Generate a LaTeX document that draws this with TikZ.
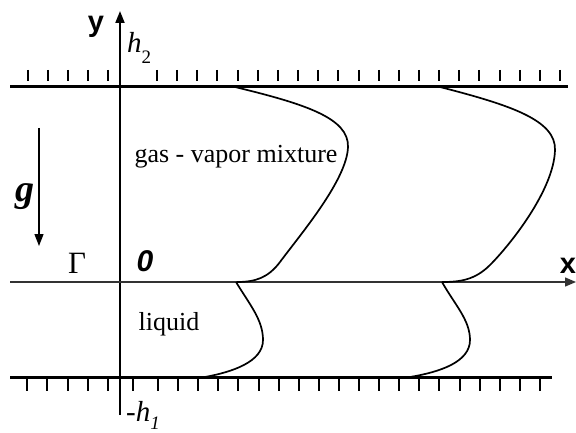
\documentclass[tikz,border=0pt]{standalone}
\usepackage{fontspec}
\setmainfont{Liberation Serif}
\setsansfont{Liberation Sans}
\usetikzlibrary{arrows.meta}
\begin{document}
\begin{tikzpicture}[x=1pt,y=-1pt,
  wall/.style={line width=3pt},
  tickmark/.style={line width=2pt},
  yaxis/.style={line width=1.9pt,-{Triangle[length=12pt,width=9pt]}},
  xaxis/.style={line width=1.4pt,black!80,-{Triangle[length=11pt,width=9pt]}},
  prof/.style={line width=1.7pt},
  lab/.style={inner sep=0pt,font=\fontsize{26}{30}\selectfont},
  axlab/.style={inner sep=0pt,font=\sffamily\bfseries\fontsize{29}{30}\selectfont}]
\useasboundingbox (0,0) rectangle (576,433);
% walls
\coordinate (tw1) at (10,87); \coordinate (tw2) at (568,87);
\coordinate (bw1) at (10,377); \coordinate (bw2) at (552,377);
\draw[wall] (tw1) -- (tw2);
\draw[wall] (bw1) -- (bw2);
% ticks top
\foreach \x in {28,48,68,88,108}{\draw[tickmark] (\x,70) -- (\x,81);}
\foreach \i in {0,...,20}{\draw[tickmark] ({157+20.15*\i},70) -- ({157+20.15*\i},81);}
% ticks bottom
\foreach \x in {27,47,68,88,108,133}{\draw[tickmark] (\x,378) -- (\x,391);}
\foreach \i in {0,...,19}{\draw[tickmark] ({158+20.1*\i},378) -- ({158+20.1*\i},391);}
% axes
\coordinate (yb) at (120,415); \coordinate (yt) at (120,11);
\coordinate (xl) at (10,282); \coordinate (xr) at (576,282);
\draw[yaxis] (yb) -- (yt);
\draw[xaxis] (xl) -- (xr);
% gravity arrow
\coordinate (g1) at (39,128); \coordinate (g2) at (39,246);
\draw[line width=1.3pt,-{Triangle[length=12pt,width=9pt]}] (g1) -- (g2);
% profiles
\draw[prof] (235,87) .. controls (305,104) and (349,118) .. (348,147)
  .. controls (347,180) and (300,235) .. (280,262)
  .. controls (268,278) and (255,282) .. (237,282);
\draw[prof] (236,282) .. controls (250,305) and (263,320) .. (263,340)
  .. controls (263,362) and (232,372) .. (205,377);
\draw[prof] (440,87) .. controls (510,105) and (556,120) .. (555,150)
  .. controls (554,190) and (510,245) .. (490,265)
  .. controls (475,280) and (460,282) .. (442,282);
\draw[prof] (442,282) .. controls (455,305) and (470,320) .. (470,340)
  .. controls (470,362) and (440,372) .. (410,377);
% labels
\node[axlab] (ylab) at (96,27) {y};
\node[axlab] (xlab) at (568,266) {x};
\node[inner sep=0pt,font=\sffamily\bfseries\itshape\fontsize{30}{30}\selectfont] (zero) at (145,261) {0};
\node[inner sep=0pt,font=\fontsize{31}{32}\selectfont] (gam) at (77,263) {Γ};
\node[inner sep=0pt,anchor=base,font=\bfseries\itshape\fontsize{38}{40}\selectfont] (glab) at (25,201) {g};
\node[lab,anchor=base] (gas) at (236,163) {gas - vapor mixture};
\node[lab,anchor=base] (liq) at (169,330) {liquid};
\node[inner sep=0pt,anchor=base west,font=\fontsize{29}{30}\selectfont] (h2) at (127,53) {\itshape h\raisebox{-0.35em}{\upshape\fontsize{19}{20}\selectfont 2}};
\node[inner sep=0pt,anchor=base west,font=\fontsize{29}{30}\selectfont] (h1) at (126,421) {-\itshape h\raisebox{-0.3em}{\fontsize{19}{20}\selectfont 1}};
\end{tikzpicture}
\end{document}
